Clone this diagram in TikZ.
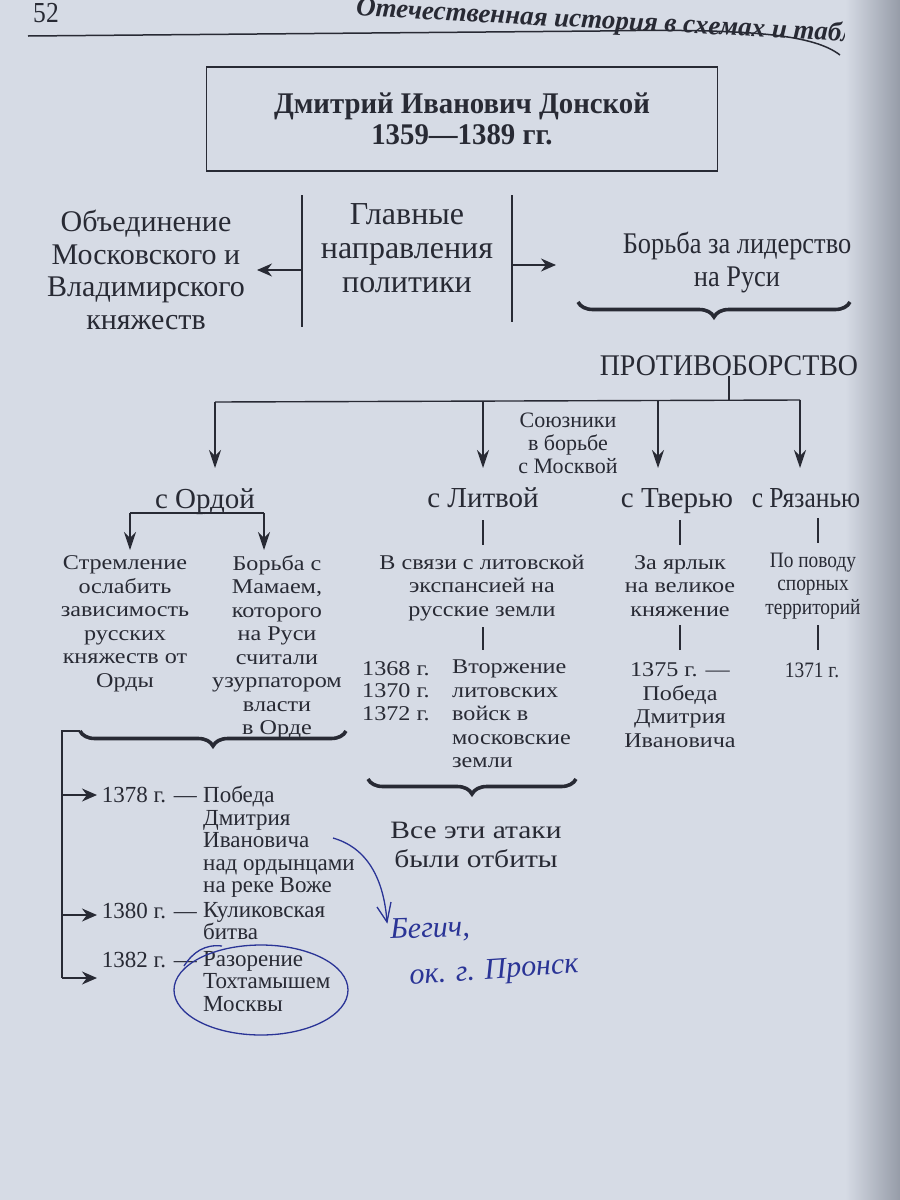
\documentclass[tikz,border=0pt]{standalone}
\usepackage{fontspec}
\setmainfont{Liberation Serif}
\newfontfamily\wide{Liberation Serif}[FakeStretch=1.15]
\newfontfamily\wider{Liberation Serif}[FakeStretch=1.18]
\newfontfamily\narr{Liberation Serif}[FakeStretch=0.88]
\newfontfamily\narrb{Liberation Serif}[FakeStretch=0.93]
\newfontfamily\ttl{Liberation Serif}[FakeStretch=0.96]
\usetikzlibrary{arrows.meta,decorations.pathreplacing}
\definecolor{paper}{RGB}{214,219,229}
\definecolor{ink}{RGB}{40,42,52}
\definecolor{pen}{RGB}{42,52,150}
\definecolor{edge}{RGB}{150,156,168}
\tikzset{
  lab/.style={text=ink, align=center, inner sep=0pt},
  big/.style={lab, font=\fontsize{30}{32.5}\selectfont},
  mid/.style={lab, font=\wide\fontsize{21}{23.5}\selectfont},
  tline/.style={lab, font=\fontsize{23}{22.5}\selectfont},
  rtext/.style={lab, font=\narr\fontsize{22}{23.5}\selectfont},
  branch/.style={lab, anchor=base, font=\fontsize{29}{30}\selectfont},
  ln/.style={draw=ink, line width=1.4pt},
  arr/.style={ln, -{Stealth[length=18pt,width=12pt]}},
  harr/.style={ln, -{Stealth[length=15pt,width=13pt]}},
  brc/.style={draw=ink, line width=3.6pt, decorate, decoration={brace, mirror, amplitude=15pt}},
  hand/.style={text=pen, inner sep=0pt, font=\itshape\fontsize{30}{30}\selectfont},
  pline/.style={draw=pen, line width=1.3pt},
}
\begin{document}
\begin{tikzpicture}[x=1pt,y=-1pt]
\useasboundingbox (0,0) rectangle (900,1200);
\clip (0,0) rectangle (900,1200);
\fill[paper] (0,0) rectangle (900,1200);
% header
\node[lab, font=\narr\fontsize{29}{29}\selectfont] (pnum) at (46,13) {52};
\node[lab, font=\bfseries\itshape\fontsize{27}{27}\selectfont, rotate=-3, anchor=west] (htitle) at (356,9) {Отечественная история в схемах и табл};
\shade[left color=paper, right color=edge] (845,0) rectangle (900,1200);
\coordinate (hl1) at (28,36);
\coordinate (hl2) at (600,31);
\coordinate (hl3) at (840,55);
\draw[ink, line width=1.5pt] (hl1) -- (hl2) .. controls (760,28) and (815,36) .. (hl3);
% title
\node[lab, draw=ink, line width=1.5pt, minimum width=511pt, minimum height=104pt,
      font=\ttl\bfseries\fontsize{30}{31}\selectfont] (title) at (462,119)
      {Дмитрий Иванович Донской\\1359—1389 гг.};
% main directions
\node[lab, font=\fontsize{32}{34}\selectfont] (glav) at (407,248) {Главные\\направления\\политики};
\coordinate (v1t) at (302,195); \coordinate (v1b) at (302,327);
\coordinate (v2t) at (512,195); \coordinate (v2b) at (512,322);
\draw[ln] (v1t) -- (v1b);
\draw[ln] (v2t) -- (v2b);
\node[big] (ob) at (146,270) {Объединение\\Московского и\\Владимирского\\княжеств};
\node[lab, font=\narr\fontsize{30}{33}\selectfont] (bor) at (737,262) {Борьба за лидерство\\на Руси};
\coordinate (la) at (302,270);
\coordinate (lae) at (257,270);
\coordinate (ra) at (512,265);
\coordinate (rae) at (556,265);
\draw[harr] (la) -- (lae);
\draw[harr] (ra) -- (rae);
\coordinate (b1l) at (578,302); \coordinate (b1r) at (850,302);
\draw[brc] (b1l) -- (b1r);
\node[lab, font=\narrb\fontsize{30}{30}\selectfont] (protiv) at (729,366) {ПРОТИВОБОРСТВО};
\coordinate (bus) at (729,401);
\draw[ln] (protiv.south) -- (bus);
\coordinate (busl) at (215,402); \coordinate (busr) at (800,400);
\draw[ln] (busl) -- (busr);
\coordinate (t1) at (215,468);
\coordinate (t2) at (483,468);
\coordinate (t3) at (658,468);
\coordinate (t4) at (800,468);
\draw[arr] (busl) -- (t1);
\draw[arr] (t2 |- bus) -- (t2);
\draw[arr] (t3 |- bus) -- (t3);
\draw[arr] (busr) -- (t4);
\node[lab, font=\fontsize{22}{23}\selectfont] (soyuz) at (568,443) {Союзники\\в борьбе\\с Москвой};
% branches
\node[branch] (orda) at (205,508) {с Ордой};
\node[branch] (litva) at (483,507) {с Литвой};
\node[branch] (tver) at (677,507) {с Тверью};
\node[branch, font=\narr\fontsize{29}{30}\selectfont] (ryaz) at (806,507) {с Рязанью};
% Orda
\coordinate (ob1) at (130,513); \coordinate (ob2) at (264,513);
\draw[ln] (orda.south) -- (orda.south |- ob1);
\draw[ln] (ob1) -- (ob2);
\node[mid] (strem) at (125,624) {Стремление\\ослабить\\зависимость\\русских\\княжеств от\\Орды};
\node[mid] (mamai) at (277,647) {Борьба с\\Мамаем,\\которого\\на Руси\\считали\\узурпатором\\власти\\в Орде};
\coordinate (oa1) at (130,550); \coordinate (oa2) at (264,550);
\draw[arr] (ob1) -- (oa1);
\draw[arr] (ob2) -- (oa2);
\coordinate (b2l) at (80,731); \coordinate (b2r) at (346,731);
\draw[brc] (b2l) -- (b2r);
\coordinate (tl0) at (62,731);
\coordinate (tl3) at (62,978);
\draw[ln] (b2l) -- (tl0) -- (tl3);
\node[tline, anchor=east] (y1378) at (197,795) {1378 г. —};
\node[tline, anchor=north west, align=left] (e1378) at (203,786) {Победа\\Дмитрия\\Ивановича\\над ордынцами\\на реке Воже};
\node[tline, anchor=east] (y1380) at (197,911) {1380 г. —};
\node[tline, anchor=north west, align=left] (e1380) at (203,902) {Куликовская\\битва};
\node[tline, anchor=east] (y1382) at (197,960) {1382 г. —};
\node[tline, anchor=north west, align=left] (e1382) at (203,951) {Разорение\\Тохтамышем\\Москвы};
\coordinate (ar1) at (97,795);
\coordinate (ar2) at (97,915);
\coordinate (ar3) at (97,978);
\draw[harr] (tl0 |- ar1) -- (ar1);
\draw[harr] (tl0 |- ar2) -- (ar2);
\draw[harr] (tl3) -- (ar3);
% Litva
\node[mid] (svyaz) at (482,588) {В связи с литовской\\экспансией на\\русские земли};
\coordinate (l1) at (483,520); \coordinate (l2) at (483,545);
\coordinate (l3) at (483,627); \coordinate (l4) at (483,650);
\draw[ln] (l1) -- (l2);
\draw[ln] (l3) -- (l4);
\node[mid, anchor=west, align=left, font=\wide\fontsize{21}{22.5}\selectfont] (years) at (362,691) {1368 г.\\1370 г.\\1372 г.};
\node[mid, anchor=north west, align=left] (vtor) at (452,660) {Вторжение\\литовских\\войск в\\московские\\земли};
\coordinate (b3l) at (368,779); \coordinate (b3r) at (576,779);
\draw[brc] (b3l) -- (b3r);
\node[lab, font=\wider\fontsize{25}{29}\selectfont] (vse) at (476,845) {Все эти атаки\\были отбиты};
% Tver
\node[mid] (yarl) at (680,586) {За ярлык\\на великое\\княжение};
\coordinate (tv1) at (680,520); \coordinate (tv2) at (680,545);
\coordinate (tv3) at (680,625); \coordinate (tv4) at (680,650);
\draw[ln] (tv1) -- (tv2);
\draw[ln] (tv3) -- (tv4);
\node[mid] (p1375) at (680,705) {1375 г. —\\Победа\\Дмитрия\\Ивановича};
% Ryazan
\node[rtext] (povod) at (813,586) {По поводу\\спорных\\территорий};
\coordinate (r1) at (818,518); \coordinate (r2) at (818,543);
\coordinate (r3) at (818,625); \coordinate (r4) at (818,650);
\draw[ln] (r1) -- (r2);
\draw[ln] (r3) -- (r4);
\node[rtext] (y1371) at (812,670) {1371 г.};
% handwriting
\coordinate (hs) at (333,838);
\coordinate (he) at (387,922);
\coordinate (hk1) at (377,907);
\coordinate (hk2) at (391,902);
\draw[pline] (hs) .. controls (368,848) and (384,880) .. (he);
\draw[pline] (hk1) -- (he) -- (hk2);
\coordinate (ec) at (261,990);
\draw[pline] (ec) ellipse [x radius=87, y radius=45];
\coordinate (et1) at (184,966);
\coordinate (et2) at (222,946);
\draw[pline] (et1) .. controls (193,952) and (205,944) .. (et2);
\node[hand, rotate=2] (beg) at (430,930) {Бегич,};
\node[hand, rotate=4] (pron) at (494,972) {ок. г. Пронск};
\end{tikzpicture}
\end{document}
